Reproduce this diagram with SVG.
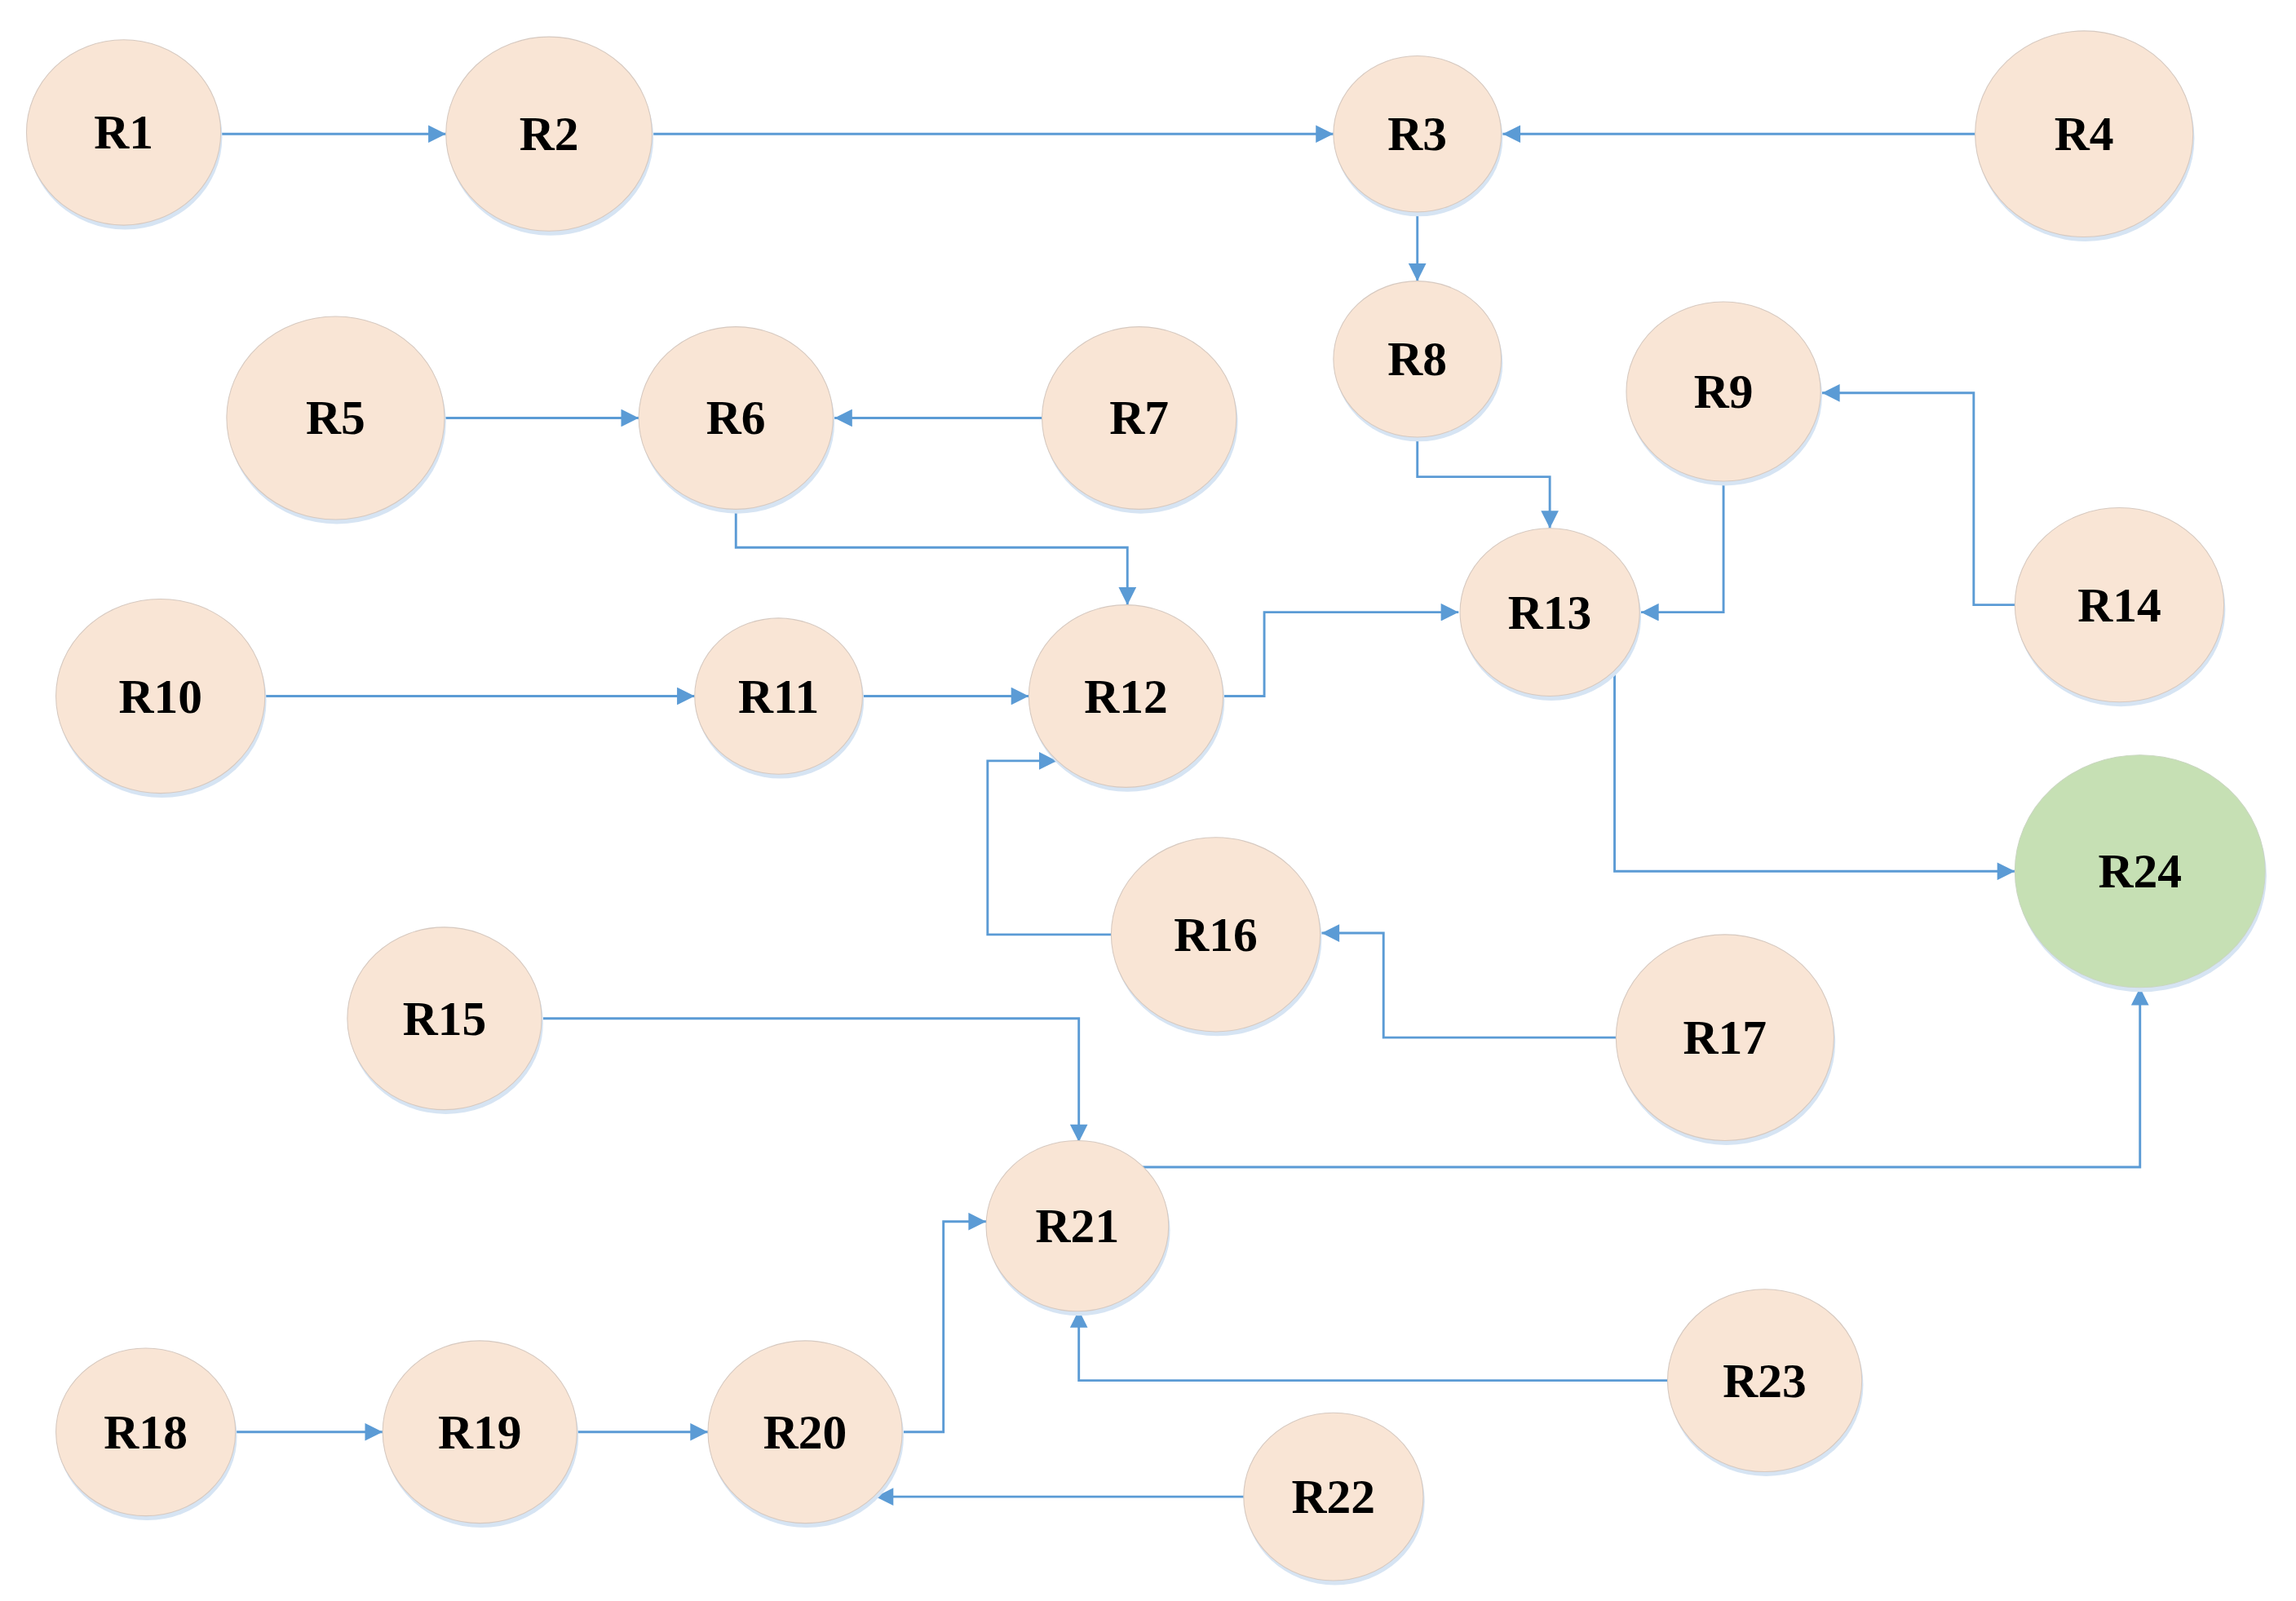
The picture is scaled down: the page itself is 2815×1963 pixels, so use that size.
<svg xmlns="http://www.w3.org/2000/svg" width="2815" height="1963" viewBox="0 0 2815 1963">
<style>
.n ellipse.b{fill:#f9e5d5;stroke:#d6c9c0;stroke-width:0.6}
.n ellipse.s{fill:#d6e4f3}
.g ellipse.b{fill:#c6e0b4;stroke:#c9d6c0}
text{font-family:"Liberation Serif","Times New Roman",serif;font-weight:bold;font-size:33px;text-anchor:middle;dominant-baseline:central;fill:#000}
#edges path{fill:none;stroke:#5b9bd5;stroke-width:1.6;marker-end:url(#a)}
</style>
<defs><marker id="a" viewBox="0 0 10 10" refX="10" refY="5" markerWidth="13" markerHeight="12" markerUnits="userSpaceOnUse" orient="auto"><path d="M0,0L10,5L0,10z" fill="#5b9bd5"/></marker></defs>
<rect width="2815" height="1963" fill="#fff"/>
<g transform="scale(1.8045)">
<g id="edges">
<path d="M150,91H303"/><path d="M444,91H906"/><path d="M1342,91H1021"/><path d="M963,145V191"/>
<path d="M302,284H434"/><path d="M709,284H567"/><path d="M500,346V372H766V411"/>
<path d="M963,298V324H1053V359"/><path d="M1171,328V416H1115"/><path d="M1370,411H1341V267H1238"/>
<path d="M180,473H472"/><path d="M586,473H699"/><path d="M831,473H859V416H991"/>
<path d="M1097,455V592H1369"/><path d="M756,635H671V517H718"/><path d="M1098,705H940V634H898"/>
<path d="M369,692H733V776"/><path d="M776,793H1454V671"/><path d="M160,973H260"/><path d="M392,973H481"/>
<path d="M614,973H641V830H670"/><path d="M1134,938H733V890"/><path d="M846,1017H595"/>
</g>
<g id="R1" class="n"><ellipse class="s" cx="85" cy="93" rx="66" ry="63"/><ellipse class="b" cx="84" cy="90" rx="66" ry="63"/><text x="84" y="90">R1</text></g>
<g id="R2" class="n"><ellipse class="s" cx="374" cy="94" rx="70" ry="66"/><ellipse class="b" cx="373" cy="91" rx="70" ry="66"/><text x="373" y="91">R2</text></g>
<g id="R3" class="n"><ellipse class="s" cx="964" cy="94" rx="57" ry="53"/><ellipse class="b" cx="963" cy="91" rx="57" ry="53"/><text x="963" y="91">R3</text></g>
<g id="R4" class="n"><ellipse class="s" cx="1417" cy="94" rx="74" ry="70"/><ellipse class="b" cx="1416" cy="91" rx="74" ry="70"/><text x="1416" y="91">R4</text></g>
<g id="R5" class="n"><ellipse class="s" cx="229" cy="287" rx="74" ry="69"/><ellipse class="b" cx="228" cy="284" rx="74" ry="69"/><text x="228" y="284">R5</text></g>
<g id="R6" class="n"><ellipse class="s" cx="501" cy="287" rx="66" ry="62"/><ellipse class="b" cx="500" cy="284" rx="66" ry="62"/><text x="500" y="284">R6</text></g>
<g id="R7" class="n"><ellipse class="s" cx="775" cy="287" rx="66" ry="62"/><ellipse class="b" cx="774" cy="284" rx="66" ry="62"/><text x="774" y="284">R7</text></g>
<g id="R8" class="n"><ellipse class="s" cx="964" cy="247" rx="57" ry="53"/><ellipse class="b" cx="963" cy="244" rx="57" ry="53"/><text x="963" y="244">R8</text></g>
<g id="R9" class="n"><ellipse class="s" cx="1172" cy="269" rx="66" ry="61"/><ellipse class="b" cx="1171" cy="266" rx="66" ry="61"/><text x="1171" y="266">R9</text></g>
<g id="R10" class="n"><ellipse class="s" cx="110" cy="476" rx="71" ry="66"/><ellipse class="b" cx="109" cy="473" rx="71" ry="66"/><text x="109" y="473">R10</text></g>
<g id="R11" class="n"><ellipse class="s" cx="530" cy="476" rx="57" ry="53"/><ellipse class="b" cx="529" cy="473" rx="57" ry="53"/><text x="529" y="473">R11</text></g>
<g id="R12" class="n"><ellipse class="s" cx="766" cy="476" rx="66" ry="62"/><ellipse class="b" cx="765" cy="473" rx="66" ry="62"/><text x="765" y="473">R12</text></g>
<g id="R13" class="n"><ellipse class="s" cx="1054" cy="419" rx="61" ry="57"/><ellipse class="b" cx="1053" cy="416" rx="61" ry="57"/><text x="1053" y="416">R13</text></g>
<g id="R14" class="n"><ellipse class="s" cx="1441" cy="414" rx="71" ry="66"/><ellipse class="b" cx="1440" cy="411" rx="71" ry="66"/><text x="1440" y="411">R14</text></g>
<g id="R15" class="n"><ellipse class="s" cx="303" cy="695" rx="66" ry="62"/><ellipse class="b" cx="302" cy="692" rx="66" ry="62"/><text x="302" y="692">R15</text></g>
<g id="R16" class="n"><ellipse class="s" cx="827" cy="638" rx="71" ry="66"/><ellipse class="b" cx="826" cy="635" rx="71" ry="66"/><text x="826" y="635">R16</text></g>
<g id="R17" class="n"><ellipse class="s" cx="1173" cy="708" rx="74" ry="70"/><ellipse class="b" cx="1172" cy="705" rx="74" ry="70"/><text x="1172" y="705">R17</text></g>
<g id="R18" class="n"><ellipse class="s" cx="100" cy="976" rx="61" ry="57"/><ellipse class="b" cx="99" cy="973" rx="61" ry="57"/><text x="99" y="973">R18</text></g>
<g id="R19" class="n"><ellipse class="s" cx="327" cy="976" rx="66" ry="62"/><ellipse class="b" cx="326" cy="973" rx="66" ry="62"/><text x="326" y="973">R19</text></g>
<g id="R20" class="n"><ellipse class="s" cx="548" cy="976" rx="66" ry="62"/><ellipse class="b" cx="547" cy="973" rx="66" ry="62"/><text x="547" y="973">R20</text></g>
<g id="R21" class="n"><ellipse class="s" cx="733" cy="836" rx="62" ry="58"/><ellipse class="b" cx="732" cy="833" rx="62" ry="58"/><text x="732" y="833">R21</text></g>
<g id="R22" class="n"><ellipse class="s" cx="907" cy="1020" rx="61" ry="57"/><ellipse class="b" cx="906" cy="1017" rx="61" ry="57"/><text x="906" y="1017">R22</text></g>
<g id="R23" class="n"><ellipse class="s" cx="1200" cy="941" rx="66" ry="62"/><ellipse class="b" cx="1199" cy="938" rx="66" ry="62"/><text x="1199" y="938">R23</text></g>
<g id="R24" class="n g"><ellipse class="s" cx="1455" cy="595" rx="85" ry="79"/><ellipse class="b" cx="1454" cy="592" rx="85" ry="79"/><text x="1454" y="592">R24</text></g>
</g>
</svg>
